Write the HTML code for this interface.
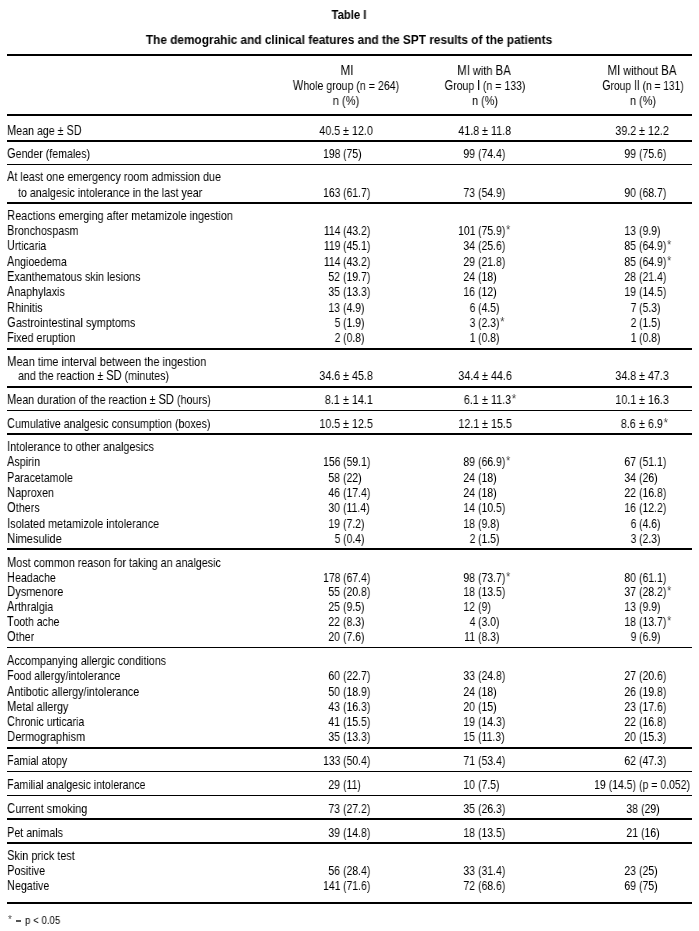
<!DOCTYPE html>
<html><head><meta charset="utf-8"><style>
html,body{margin:0;padding:0;background:#fff;}
body{width:699px;height:931px;position:relative;overflow:hidden;font-family:"Liberation Sans",sans-serif;color:#000;}
.t{position:absolute;white-space:pre;line-height:20px;will-change:transform;}
.t u{text-decoration:none;font-size:14px;line-height:0;}
.t i{font-style:normal;color:#444;margin-left:1px;position:relative;top:-0.8px;}
.r{position:absolute;left:7px;width:685px;background:#000;}
</style></head><body>
<div class="t" style="top:5.00px;font-size:12px;font-weight:bold;left:349.30px;transform:scaleX(0.94) translateX(-50%);transform-origin:0 0;">Table I</div>
<div class="t" style="top:30.00px;font-size:12px;font-weight:bold;left:349.35px;transform:scaleX(0.986) translateX(-50%);transform-origin:0 0;">The demograhic and clinical features and the SPT results of the patients</div>
<div class="r" style="top:54px;height:2px"></div>
<div class="r" style="top:114px;height:2px"></div>
<div class="r" style="top:140px;height:2px"></div>
<div class="r" style="top:164px;height:1px"></div>
<div class="r" style="top:202px;height:2px"></div>
<div class="r" style="top:348px;height:2px"></div>
<div class="r" style="top:386px;height:2px"></div>
<div class="r" style="top:410px;height:1px"></div>
<div class="r" style="top:433px;height:2px"></div>
<div class="r" style="top:548px;height:2px"></div>
<div class="r" style="top:647px;height:1px"></div>
<div class="r" style="top:747px;height:2px"></div>
<div class="r" style="top:771px;height:1px"></div>
<div class="r" style="top:795px;height:1px"></div>
<div class="r" style="top:818px;height:2px"></div>
<div class="r" style="top:842px;height:2px"></div>
<div class="r" style="top:902px;height:2px"></div>
<div class="t" style="top:61.00px;font-size:13.5px;left:347.30px;transform:scaleX(0.827037037037037) translateX(-50%);transform-origin:0 0;"><u>M</u><u>I</u></div>
<div class="t" style="top:76.00px;font-size:13.5px;left:346.30px;transform:scaleX(0.7859703703703703) translateX(-50%);transform-origin:0 0;"><u>W</u>hole group (n = 264)</div>
<div class="t" style="top:91.00px;font-size:13.5px;left:346.00px;transform:scaleX(0.8252740740740739) translateX(-50%);transform-origin:0 0;">n (%)</div>
<div class="t" style="top:61.00px;font-size:13.5px;left:484.20px;transform:scaleX(0.8157333333333332) translateX(-50%);transform-origin:0 0;"><u>M</u><u>I</u> with <u>B</u><u>A</u></div>
<div class="t" style="top:76.00px;font-size:13.5px;left:484.90px;transform:scaleX(0.7790222222222222) translateX(-50%);transform-origin:0 0;"><u>G</u>roup <u>I</u> (n = 133)</div>
<div class="t" style="top:91.00px;font-size:13.5px;left:484.70px;transform:scaleX(0.8062962962962962) translateX(-50%);transform-origin:0 0;">n (%)</div>
<div class="t" style="top:61.00px;font-size:13.5px;left:641.70px;transform:scaleX(0.8164592592592592) translateX(-50%);transform-origin:0 0;"><u>M</u><u>I</u> without <u>B</u><u>A</u></div>
<div class="t" style="top:76.00px;font-size:13.5px;left:642.60px;transform:scaleX(0.757037037037037) translateX(-50%);transform-origin:0 0;"><u>G</u>roup <u>I</u><u>I</u> (n = 131)</div>
<div class="t" style="top:91.00px;font-size:13.5px;left:642.70px;transform:scaleX(0.8125185185185184) translateX(-50%);transform-origin:0 0;">n (%)</div>
<div class="t" style="top:121.00px;font-size:13.5px;left:7.00px;transform:scaleX(0.7879015775691912);transform-origin:0 0;"><u>M</u>ean age ± <u>S</u><u>D</u></div>
<div class="t" style="top:121.00px;font-size:13.5px;left:342.70px;transform:scaleX(0.7964444444444444);transform-origin:0 0;">± 12.0</div>
<div class="t" style="top:121.00px;font-size:13.5px;right:359.10px;transform:scaleX(0.7964444444444444);transform-origin:100% 0;">40.5</div>
<div class="t" style="top:121.00px;font-size:13.5px;left:481.60px;transform:scaleX(0.7964444444444444);transform-origin:0 0;">± 11.8</div>
<div class="t" style="top:121.00px;font-size:13.5px;right:220.20px;transform:scaleX(0.7964444444444444);transform-origin:100% 0;">41.8</div>
<div class="t" style="top:121.00px;font-size:13.5px;left:638.90px;transform:scaleX(0.7964444444444444);transform-origin:0 0;">± 12.2</div>
<div class="t" style="top:121.00px;font-size:13.5px;right:62.90px;transform:scaleX(0.7964444444444444);transform-origin:100% 0;">39.2</div>
<div class="t" style="top:144.00px;font-size:13.5px;left:7.00px;transform:scaleX(0.7869093960571459);transform-origin:0 0;"><u>G</u>ender (females)</div>
<div class="t" style="top:144.00px;font-size:13.5px;left:342.90px;transform:scaleX(0.7757037037037037);transform-origin:0 0;">(75)</div>
<div class="t" style="top:144.00px;font-size:13.5px;right:358.90px;transform:scaleX(0.7757037037037037);transform-origin:100% 0;">198</div>
<div class="t" style="top:144.00px;font-size:13.5px;left:477.90px;transform:scaleX(0.7757037037037037);transform-origin:0 0;">(74.4)</div>
<div class="t" style="top:144.00px;font-size:13.5px;right:223.90px;transform:scaleX(0.7757037037037037);transform-origin:100% 0;">99</div>
<div class="t" style="top:144.00px;font-size:13.5px;left:639.10px;transform:scaleX(0.7757037037037037);transform-origin:0 0;">(75.6)</div>
<div class="t" style="top:144.00px;font-size:13.5px;right:62.70px;transform:scaleX(0.7757037037037037);transform-origin:100% 0;">99</div>
<div class="t" style="top:167.00px;font-size:13.5px;left:7.00px;transform:scaleX(0.799852436521638);transform-origin:0 0;"><u>A</u>t least one emergency room admission due</div>
<div class="t" style="top:182.50px;font-size:13.5px;left:17.50px;transform:scaleX(0.788880826695555);transform-origin:0 0;">to analgesic intolerance in the last year</div>
<div class="t" style="top:182.50px;font-size:13.5px;left:342.90px;transform:scaleX(0.7757037037037037);transform-origin:0 0;">(61.7)</div>
<div class="t" style="top:182.50px;font-size:13.5px;right:358.90px;transform:scaleX(0.7757037037037037);transform-origin:100% 0;">163</div>
<div class="t" style="top:182.50px;font-size:13.5px;left:477.90px;transform:scaleX(0.7757037037037037);transform-origin:0 0;">(54.9)</div>
<div class="t" style="top:182.50px;font-size:13.5px;right:223.90px;transform:scaleX(0.7757037037037037);transform-origin:100% 0;">73</div>
<div class="t" style="top:182.50px;font-size:13.5px;left:639.10px;transform:scaleX(0.7757037037037037);transform-origin:0 0;">(68.7)</div>
<div class="t" style="top:182.50px;font-size:13.5px;right:62.70px;transform:scaleX(0.7757037037037037);transform-origin:100% 0;">90</div>
<div class="t" style="top:206.00px;font-size:13.5px;left:7.00px;transform:scaleX(0.8016534879501813);transform-origin:0 0;"><u>R</u>eactions emerging after metamizole ingestion</div>
<div class="t" style="top:221.00px;font-size:13.5px;left:7.00px;transform:scaleX(0.7898478248480726);transform-origin:0 0;"><u>B</u>ronchospasm</div>
<div class="t" style="top:221.00px;font-size:13.5px;left:342.90px;transform:scaleX(0.7757037037037037);transform-origin:0 0;">(43.2)</div>
<div class="t" style="top:221.00px;font-size:13.5px;right:358.90px;transform:scaleX(0.7757037037037037);transform-origin:100% 0;">114</div>
<div class="t" style="top:221.00px;font-size:13.5px;left:477.90px;transform:scaleX(0.7757037037037037);transform-origin:0 0;">(75.9)<i>*</i></div>
<div class="t" style="top:221.00px;font-size:13.5px;right:223.90px;transform:scaleX(0.7757037037037037);transform-origin:100% 0;">101</div>
<div class="t" style="top:221.00px;font-size:13.5px;left:639.10px;transform:scaleX(0.7757037037037037);transform-origin:0 0;">(9.9)</div>
<div class="t" style="top:221.00px;font-size:13.5px;right:62.70px;transform:scaleX(0.7757037037037037);transform-origin:100% 0;">13</div>
<div class="t" style="top:236.00px;font-size:13.5px;left:7.00px;transform:scaleX(0.776022792022792);transform-origin:0 0;"><u>U</u>rticaria</div>
<div class="t" style="top:236.00px;font-size:13.5px;left:342.90px;transform:scaleX(0.7757037037037037);transform-origin:0 0;">(45.1)</div>
<div class="t" style="top:236.00px;font-size:13.5px;right:358.90px;transform:scaleX(0.7757037037037037);transform-origin:100% 0;">119</div>
<div class="t" style="top:236.00px;font-size:13.5px;left:477.90px;transform:scaleX(0.7757037037037037);transform-origin:0 0;">(25.6)</div>
<div class="t" style="top:236.00px;font-size:13.5px;right:223.90px;transform:scaleX(0.7757037037037037);transform-origin:100% 0;">34</div>
<div class="t" style="top:236.00px;font-size:13.5px;left:639.10px;transform:scaleX(0.7757037037037037);transform-origin:0 0;">(64.9)<i>*</i></div>
<div class="t" style="top:236.00px;font-size:13.5px;right:62.70px;transform:scaleX(0.7757037037037037);transform-origin:100% 0;">85</div>
<div class="t" style="top:252.00px;font-size:13.5px;left:7.00px;transform:scaleX(0.7833879781420764);transform-origin:0 0;"><u>A</u>ngioedema</div>
<div class="t" style="top:252.00px;font-size:13.5px;left:342.90px;transform:scaleX(0.7757037037037037);transform-origin:0 0;">(43.2)</div>
<div class="t" style="top:252.00px;font-size:13.5px;right:358.90px;transform:scaleX(0.7757037037037037);transform-origin:100% 0;">114</div>
<div class="t" style="top:252.00px;font-size:13.5px;left:477.90px;transform:scaleX(0.7757037037037037);transform-origin:0 0;">(21.8)</div>
<div class="t" style="top:252.00px;font-size:13.5px;right:223.90px;transform:scaleX(0.7757037037037037);transform-origin:100% 0;">29</div>
<div class="t" style="top:252.00px;font-size:13.5px;left:639.10px;transform:scaleX(0.7757037037037037);transform-origin:0 0;">(64.9)<i>*</i></div>
<div class="t" style="top:252.00px;font-size:13.5px;right:62.70px;transform:scaleX(0.7757037037037037);transform-origin:100% 0;">85</div>
<div class="t" style="top:267.00px;font-size:13.5px;left:7.00px;transform:scaleX(0.7952588207370934);transform-origin:0 0;"><u>E</u>xanthematous skin lesions</div>
<div class="t" style="top:267.00px;font-size:13.5px;left:342.90px;transform:scaleX(0.7757037037037037);transform-origin:0 0;">(19.7)</div>
<div class="t" style="top:267.00px;font-size:13.5px;right:358.90px;transform:scaleX(0.7757037037037037);transform-origin:100% 0;">52</div>
<div class="t" style="top:267.00px;font-size:13.5px;left:477.90px;transform:scaleX(0.7757037037037037);transform-origin:0 0;">(18)</div>
<div class="t" style="top:267.00px;font-size:13.5px;right:223.90px;transform:scaleX(0.7757037037037037);transform-origin:100% 0;">24</div>
<div class="t" style="top:267.00px;font-size:13.5px;left:639.10px;transform:scaleX(0.7757037037037037);transform-origin:0 0;">(21.4)</div>
<div class="t" style="top:267.00px;font-size:13.5px;right:62.70px;transform:scaleX(0.7757037037037037);transform-origin:100% 0;">28</div>
<div class="t" style="top:282.00px;font-size:13.5px;left:7.00px;transform:scaleX(0.7884064180111445);transform-origin:0 0;"><u>A</u>naphylaxis</div>
<div class="t" style="top:282.00px;font-size:13.5px;left:342.90px;transform:scaleX(0.7757037037037037);transform-origin:0 0;">(13.3)</div>
<div class="t" style="top:282.00px;font-size:13.5px;right:358.90px;transform:scaleX(0.7757037037037037);transform-origin:100% 0;">35</div>
<div class="t" style="top:282.00px;font-size:13.5px;left:477.90px;transform:scaleX(0.7757037037037037);transform-origin:0 0;">(12)</div>
<div class="t" style="top:282.00px;font-size:13.5px;right:223.90px;transform:scaleX(0.7757037037037037);transform-origin:100% 0;">16</div>
<div class="t" style="top:282.00px;font-size:13.5px;left:639.10px;transform:scaleX(0.7757037037037037);transform-origin:0 0;">(14.5)</div>
<div class="t" style="top:282.00px;font-size:13.5px;right:62.70px;transform:scaleX(0.7757037037037037);transform-origin:100% 0;">19</div>
<div class="t" style="top:298.00px;font-size:13.5px;left:7.00px;transform:scaleX(0.7964444444444444);transform-origin:0 0;"><u>R</u>hinitis</div>
<div class="t" style="top:298.00px;font-size:13.5px;left:342.90px;transform:scaleX(0.7757037037037037);transform-origin:0 0;">(4.9)</div>
<div class="t" style="top:298.00px;font-size:13.5px;right:358.90px;transform:scaleX(0.7757037037037037);transform-origin:100% 0;">13</div>
<div class="t" style="top:298.00px;font-size:13.5px;left:477.90px;transform:scaleX(0.7757037037037037);transform-origin:0 0;">(4.5)</div>
<div class="t" style="top:298.00px;font-size:13.5px;right:223.90px;transform:scaleX(0.7757037037037037);transform-origin:100% 0;">6</div>
<div class="t" style="top:298.00px;font-size:13.5px;left:639.10px;transform:scaleX(0.7757037037037037);transform-origin:0 0;">(5.3)</div>
<div class="t" style="top:298.00px;font-size:13.5px;right:62.70px;transform:scaleX(0.7757037037037037);transform-origin:100% 0;">7</div>
<div class="t" style="top:313.00px;font-size:13.5px;left:7.00px;transform:scaleX(0.8050421199355624);transform-origin:0 0;"><u>G</u>astrointestinal symptoms</div>
<div class="t" style="top:313.00px;font-size:13.5px;left:342.90px;transform:scaleX(0.7757037037037037);transform-origin:0 0;">(1.9)</div>
<div class="t" style="top:313.00px;font-size:13.5px;right:358.90px;transform:scaleX(0.7757037037037037);transform-origin:100% 0;">5</div>
<div class="t" style="top:313.00px;font-size:13.5px;left:477.90px;transform:scaleX(0.7757037037037037);transform-origin:0 0;">(2.3)<i>*</i></div>
<div class="t" style="top:313.00px;font-size:13.5px;right:223.90px;transform:scaleX(0.7757037037037037);transform-origin:100% 0;">3</div>
<div class="t" style="top:313.00px;font-size:13.5px;left:639.10px;transform:scaleX(0.7757037037037037);transform-origin:0 0;">(1.5)</div>
<div class="t" style="top:313.00px;font-size:13.5px;right:62.70px;transform:scaleX(0.7757037037037037);transform-origin:100% 0;">2</div>
<div class="t" style="top:328.00px;font-size:13.5px;left:7.00px;transform:scaleX(0.7964444444444444);transform-origin:0 0;"><u>F</u>ixed eruption</div>
<div class="t" style="top:328.00px;font-size:13.5px;left:342.90px;transform:scaleX(0.7757037037037037);transform-origin:0 0;">(0.8)</div>
<div class="t" style="top:328.00px;font-size:13.5px;right:358.90px;transform:scaleX(0.7757037037037037);transform-origin:100% 0;">2</div>
<div class="t" style="top:328.00px;font-size:13.5px;left:477.90px;transform:scaleX(0.7757037037037037);transform-origin:0 0;">(0.8)</div>
<div class="t" style="top:328.00px;font-size:13.5px;right:223.90px;transform:scaleX(0.7757037037037037);transform-origin:100% 0;">1</div>
<div class="t" style="top:328.00px;font-size:13.5px;left:639.10px;transform:scaleX(0.7757037037037037);transform-origin:0 0;">(0.8)</div>
<div class="t" style="top:328.00px;font-size:13.5px;right:62.70px;transform:scaleX(0.7757037037037037);transform-origin:100% 0;">1</div>
<div class="t" style="top:352.00px;font-size:13.5px;left:7.00px;transform:scaleX(0.8108108935240101);transform-origin:0 0;"><u>M</u>ean time interval between the ingestion</div>
<div class="t" style="top:366.00px;font-size:13.5px;left:17.50px;transform:scaleX(0.7896274329876648);transform-origin:0 0;">and the reaction ± <u>S</u><u>D</u> (minutes)</div>
<div class="t" style="top:366.00px;font-size:13.5px;left:342.70px;transform:scaleX(0.7964444444444444);transform-origin:0 0;">± 45.8</div>
<div class="t" style="top:366.00px;font-size:13.5px;right:359.10px;transform:scaleX(0.7964444444444444);transform-origin:100% 0;">34.6</div>
<div class="t" style="top:366.00px;font-size:13.5px;left:481.60px;transform:scaleX(0.7964444444444444);transform-origin:0 0;">± 44.6</div>
<div class="t" style="top:366.00px;font-size:13.5px;right:220.20px;transform:scaleX(0.7964444444444444);transform-origin:100% 0;">34.4</div>
<div class="t" style="top:366.00px;font-size:13.5px;left:638.90px;transform:scaleX(0.7964444444444444);transform-origin:0 0;">± 47.3</div>
<div class="t" style="top:366.00px;font-size:13.5px;right:62.90px;transform:scaleX(0.7964444444444444);transform-origin:100% 0;">34.8</div>
<div class="t" style="top:390.00px;font-size:13.5px;left:7.00px;transform:scaleX(0.7933146585978659);transform-origin:0 0;"><u>M</u>ean duration of the reaction ± <u>S</u><u>D</u> (hours)</div>
<div class="t" style="top:390.00px;font-size:13.5px;left:342.70px;transform:scaleX(0.7964444444444444);transform-origin:0 0;">± 14.1</div>
<div class="t" style="top:390.00px;font-size:13.5px;right:359.10px;transform:scaleX(0.7964444444444444);transform-origin:100% 0;">8.1</div>
<div class="t" style="top:390.00px;font-size:13.5px;left:481.60px;transform:scaleX(0.7964444444444444);transform-origin:0 0;">± 11.3<i>*</i></div>
<div class="t" style="top:390.00px;font-size:13.5px;right:220.20px;transform:scaleX(0.7964444444444444);transform-origin:100% 0;">6.1</div>
<div class="t" style="top:390.00px;font-size:13.5px;left:638.90px;transform:scaleX(0.7964444444444444);transform-origin:0 0;">± 16.3</div>
<div class="t" style="top:390.00px;font-size:13.5px;right:62.90px;transform:scaleX(0.7964444444444444);transform-origin:100% 0;">10.1</div>
<div class="t" style="top:414.00px;font-size:13.5px;left:7.00px;transform:scaleX(0.7894258612517977);transform-origin:0 0;"><u>C</u>umulative analgesic consumption (boxes)</div>
<div class="t" style="top:414.00px;font-size:13.5px;left:342.70px;transform:scaleX(0.7964444444444444);transform-origin:0 0;">± 12.5</div>
<div class="t" style="top:414.00px;font-size:13.5px;right:359.10px;transform:scaleX(0.7964444444444444);transform-origin:100% 0;">10.5</div>
<div class="t" style="top:414.00px;font-size:13.5px;left:481.60px;transform:scaleX(0.7964444444444444);transform-origin:0 0;">± 15.5</div>
<div class="t" style="top:414.00px;font-size:13.5px;right:220.20px;transform:scaleX(0.7964444444444444);transform-origin:100% 0;">12.1</div>
<div class="t" style="top:414.00px;font-size:13.5px;left:638.90px;transform:scaleX(0.7964444444444444);transform-origin:0 0;">± 6.9<i>*</i></div>
<div class="t" style="top:414.00px;font-size:13.5px;right:62.90px;transform:scaleX(0.7964444444444444);transform-origin:100% 0;">8.6</div>
<div class="t" style="top:437.00px;font-size:13.5px;left:7.00px;transform:scaleX(0.7986732699240056);transform-origin:0 0;"><u>I</u>ntolerance to other analgesics</div>
<div class="t" style="top:452.00px;font-size:13.5px;left:7.00px;transform:scaleX(0.7964444444444444);transform-origin:0 0;"><u>A</u>spirin</div>
<div class="t" style="top:452.00px;font-size:13.5px;left:342.90px;transform:scaleX(0.7757037037037037);transform-origin:0 0;">(59.1)</div>
<div class="t" style="top:452.00px;font-size:13.5px;right:358.90px;transform:scaleX(0.7757037037037037);transform-origin:100% 0;">156</div>
<div class="t" style="top:452.00px;font-size:13.5px;left:477.90px;transform:scaleX(0.7757037037037037);transform-origin:0 0;">(66.9)<i>*</i></div>
<div class="t" style="top:452.00px;font-size:13.5px;right:223.90px;transform:scaleX(0.7757037037037037);transform-origin:100% 0;">89</div>
<div class="t" style="top:452.00px;font-size:13.5px;left:639.10px;transform:scaleX(0.7757037037037037);transform-origin:0 0;">(51.1)</div>
<div class="t" style="top:452.00px;font-size:13.5px;right:62.70px;transform:scaleX(0.7757037037037037);transform-origin:100% 0;">67</div>
<div class="t" style="top:468.00px;font-size:13.5px;left:7.00px;transform:scaleX(0.7867294150385777);transform-origin:0 0;"><u>P</u>aracetamole</div>
<div class="t" style="top:468.00px;font-size:13.5px;left:342.90px;transform:scaleX(0.7757037037037037);transform-origin:0 0;">(22)</div>
<div class="t" style="top:468.00px;font-size:13.5px;right:358.90px;transform:scaleX(0.7757037037037037);transform-origin:100% 0;">58</div>
<div class="t" style="top:468.00px;font-size:13.5px;left:477.90px;transform:scaleX(0.7757037037037037);transform-origin:0 0;">(18)</div>
<div class="t" style="top:468.00px;font-size:13.5px;right:223.90px;transform:scaleX(0.7757037037037037);transform-origin:100% 0;">24</div>
<div class="t" style="top:468.00px;font-size:13.5px;left:639.10px;transform:scaleX(0.7757037037037037);transform-origin:0 0;">(26)</div>
<div class="t" style="top:468.00px;font-size:13.5px;right:62.70px;transform:scaleX(0.7757037037037037);transform-origin:100% 0;">34</div>
<div class="t" style="top:483.00px;font-size:13.5px;left:7.00px;transform:scaleX(0.7964444444444444);transform-origin:0 0;"><u>N</u>aproxen</div>
<div class="t" style="top:483.00px;font-size:13.5px;left:342.90px;transform:scaleX(0.7757037037037037);transform-origin:0 0;">(17.4)</div>
<div class="t" style="top:483.00px;font-size:13.5px;right:358.90px;transform:scaleX(0.7757037037037037);transform-origin:100% 0;">46</div>
<div class="t" style="top:483.00px;font-size:13.5px;left:477.90px;transform:scaleX(0.7757037037037037);transform-origin:0 0;">(18)</div>
<div class="t" style="top:483.00px;font-size:13.5px;right:223.90px;transform:scaleX(0.7757037037037037);transform-origin:100% 0;">24</div>
<div class="t" style="top:483.00px;font-size:13.5px;left:639.10px;transform:scaleX(0.7757037037037037);transform-origin:0 0;">(16.8)</div>
<div class="t" style="top:483.00px;font-size:13.5px;right:62.70px;transform:scaleX(0.7757037037037037);transform-origin:100% 0;">22</div>
<div class="t" style="top:498.00px;font-size:13.5px;left:7.00px;transform:scaleX(0.7964444444444444);transform-origin:0 0;"><u>O</u>thers</div>
<div class="t" style="top:498.00px;font-size:13.5px;left:342.90px;transform:scaleX(0.7757037037037037);transform-origin:0 0;">(11.4)</div>
<div class="t" style="top:498.00px;font-size:13.5px;right:358.90px;transform:scaleX(0.7757037037037037);transform-origin:100% 0;">30</div>
<div class="t" style="top:498.00px;font-size:13.5px;left:477.90px;transform:scaleX(0.7757037037037037);transform-origin:0 0;">(10.5)</div>
<div class="t" style="top:498.00px;font-size:13.5px;right:223.90px;transform:scaleX(0.7757037037037037);transform-origin:100% 0;">14</div>
<div class="t" style="top:498.00px;font-size:13.5px;left:639.10px;transform:scaleX(0.7757037037037037);transform-origin:0 0;">(12.2)</div>
<div class="t" style="top:498.00px;font-size:13.5px;right:62.70px;transform:scaleX(0.7757037037037037);transform-origin:100% 0;">16</div>
<div class="t" style="top:514.00px;font-size:13.5px;left:7.00px;transform:scaleX(0.8007402525202977);transform-origin:0 0;"><u>I</u>solated metamizole intolerance</div>
<div class="t" style="top:514.00px;font-size:13.5px;left:342.90px;transform:scaleX(0.7757037037037037);transform-origin:0 0;">(7.2)</div>
<div class="t" style="top:514.00px;font-size:13.5px;right:358.90px;transform:scaleX(0.7757037037037037);transform-origin:100% 0;">19</div>
<div class="t" style="top:514.00px;font-size:13.5px;left:477.90px;transform:scaleX(0.7757037037037037);transform-origin:0 0;">(9.8)</div>
<div class="t" style="top:514.00px;font-size:13.5px;right:223.90px;transform:scaleX(0.7757037037037037);transform-origin:100% 0;">18</div>
<div class="t" style="top:514.00px;font-size:13.5px;left:639.10px;transform:scaleX(0.7757037037037037);transform-origin:0 0;">(4.6)</div>
<div class="t" style="top:514.00px;font-size:13.5px;right:62.70px;transform:scaleX(0.7757037037037037);transform-origin:100% 0;">6</div>
<div class="t" style="top:529.00px;font-size:13.5px;left:7.00px;transform:scaleX(0.8135155724592016);transform-origin:0 0;"><u>N</u>imesulide</div>
<div class="t" style="top:529.00px;font-size:13.5px;left:342.90px;transform:scaleX(0.7757037037037037);transform-origin:0 0;">(0.4)</div>
<div class="t" style="top:529.00px;font-size:13.5px;right:358.90px;transform:scaleX(0.7757037037037037);transform-origin:100% 0;">5</div>
<div class="t" style="top:529.00px;font-size:13.5px;left:477.90px;transform:scaleX(0.7757037037037037);transform-origin:0 0;">(1.5)</div>
<div class="t" style="top:529.00px;font-size:13.5px;right:223.90px;transform:scaleX(0.7757037037037037);transform-origin:100% 0;">2</div>
<div class="t" style="top:529.00px;font-size:13.5px;left:639.10px;transform:scaleX(0.7757037037037037);transform-origin:0 0;">(2.3)</div>
<div class="t" style="top:529.00px;font-size:13.5px;right:62.70px;transform:scaleX(0.7757037037037037);transform-origin:100% 0;">3</div>
<div class="t" style="top:553.00px;font-size:13.5px;left:7.00px;transform:scaleX(0.7949635467752424);transform-origin:0 0;"><u>M</u>ost common reason for taking an analgesic</div>
<div class="t" style="top:568.00px;font-size:13.5px;left:7.00px;transform:scaleX(0.7867831263009912);transform-origin:0 0;"><u>H</u>eadache</div>
<div class="t" style="top:568.00px;font-size:13.5px;left:342.90px;transform:scaleX(0.7757037037037037);transform-origin:0 0;">(67.4)</div>
<div class="t" style="top:568.00px;font-size:13.5px;right:358.90px;transform:scaleX(0.7757037037037037);transform-origin:100% 0;">178</div>
<div class="t" style="top:568.00px;font-size:13.5px;left:477.90px;transform:scaleX(0.7757037037037037);transform-origin:0 0;">(73.7)<i>*</i></div>
<div class="t" style="top:568.00px;font-size:13.5px;right:223.90px;transform:scaleX(0.7757037037037037);transform-origin:100% 0;">98</div>
<div class="t" style="top:568.00px;font-size:13.5px;left:639.10px;transform:scaleX(0.7757037037037037);transform-origin:0 0;">(61.1)</div>
<div class="t" style="top:568.00px;font-size:13.5px;right:62.70px;transform:scaleX(0.7757037037037037);transform-origin:100% 0;">80</div>
<div class="t" style="top:582.00px;font-size:13.5px;left:7.00px;transform:scaleX(0.8112387983368077);transform-origin:0 0;"><u>D</u>ysmenore</div>
<div class="t" style="top:582.00px;font-size:13.5px;left:342.90px;transform:scaleX(0.7757037037037037);transform-origin:0 0;">(20.8)</div>
<div class="t" style="top:582.00px;font-size:13.5px;right:358.90px;transform:scaleX(0.7757037037037037);transform-origin:100% 0;">55</div>
<div class="t" style="top:582.00px;font-size:13.5px;left:477.90px;transform:scaleX(0.7757037037037037);transform-origin:0 0;">(13.5)</div>
<div class="t" style="top:582.00px;font-size:13.5px;right:223.90px;transform:scaleX(0.7757037037037037);transform-origin:100% 0;">18</div>
<div class="t" style="top:582.00px;font-size:13.5px;left:639.10px;transform:scaleX(0.7757037037037037);transform-origin:0 0;">(28.2)<i>*</i></div>
<div class="t" style="top:582.00px;font-size:13.5px;right:62.70px;transform:scaleX(0.7757037037037037);transform-origin:100% 0;">37</div>
<div class="t" style="top:597.00px;font-size:13.5px;left:7.00px;transform:scaleX(0.7964444444444444);transform-origin:0 0;"><u>A</u>rthralgia</div>
<div class="t" style="top:597.00px;font-size:13.5px;left:342.90px;transform:scaleX(0.7757037037037037);transform-origin:0 0;">(9.5)</div>
<div class="t" style="top:597.00px;font-size:13.5px;right:358.90px;transform:scaleX(0.7757037037037037);transform-origin:100% 0;">25</div>
<div class="t" style="top:597.00px;font-size:13.5px;left:477.90px;transform:scaleX(0.7757037037037037);transform-origin:0 0;">(9)</div>
<div class="t" style="top:597.00px;font-size:13.5px;right:223.90px;transform:scaleX(0.7757037037037037);transform-origin:100% 0;">12</div>
<div class="t" style="top:597.00px;font-size:13.5px;left:639.10px;transform:scaleX(0.7757037037037037);transform-origin:0 0;">(9.9)</div>
<div class="t" style="top:597.00px;font-size:13.5px;right:62.70px;transform:scaleX(0.7757037037037037);transform-origin:100% 0;">13</div>
<div class="t" style="top:612.00px;font-size:13.5px;left:7.00px;transform:scaleX(0.7728074422725171);transform-origin:0 0;"><u>T</u>ooth ache</div>
<div class="t" style="top:612.00px;font-size:13.5px;left:342.90px;transform:scaleX(0.7757037037037037);transform-origin:0 0;">(8.3)</div>
<div class="t" style="top:612.00px;font-size:13.5px;right:358.90px;transform:scaleX(0.7757037037037037);transform-origin:100% 0;">22</div>
<div class="t" style="top:612.00px;font-size:13.5px;left:477.90px;transform:scaleX(0.7757037037037037);transform-origin:0 0;">(3.0)</div>
<div class="t" style="top:612.00px;font-size:13.5px;right:223.90px;transform:scaleX(0.7757037037037037);transform-origin:100% 0;">4</div>
<div class="t" style="top:612.00px;font-size:13.5px;left:639.10px;transform:scaleX(0.7757037037037037);transform-origin:0 0;">(13.7)<i>*</i></div>
<div class="t" style="top:612.00px;font-size:13.5px;right:62.70px;transform:scaleX(0.7757037037037037);transform-origin:100% 0;">18</div>
<div class="t" style="top:627.00px;font-size:13.5px;left:7.00px;transform:scaleX(0.7964444444444444);transform-origin:0 0;"><u>O</u>ther</div>
<div class="t" style="top:627.00px;font-size:13.5px;left:342.90px;transform:scaleX(0.7757037037037037);transform-origin:0 0;">(7.6)</div>
<div class="t" style="top:627.00px;font-size:13.5px;right:358.90px;transform:scaleX(0.7757037037037037);transform-origin:100% 0;">20</div>
<div class="t" style="top:627.00px;font-size:13.5px;left:477.90px;transform:scaleX(0.7757037037037037);transform-origin:0 0;">(8.3)</div>
<div class="t" style="top:627.00px;font-size:13.5px;right:223.90px;transform:scaleX(0.7757037037037037);transform-origin:100% 0;">11</div>
<div class="t" style="top:627.00px;font-size:13.5px;left:639.10px;transform:scaleX(0.7757037037037037);transform-origin:0 0;">(6.9)</div>
<div class="t" style="top:627.00px;font-size:13.5px;right:62.70px;transform:scaleX(0.7757037037037037);transform-origin:100% 0;">9</div>
<div class="t" style="top:651.00px;font-size:13.5px;left:7.00px;transform:scaleX(0.7954571671400607);transform-origin:0 0;"><u>A</u>ccompanying allergic conditions</div>
<div class="t" style="top:666.00px;font-size:13.5px;left:7.00px;transform:scaleX(0.7846563179758687);transform-origin:0 0;"><u>F</u>ood allergy/intolerance</div>
<div class="t" style="top:666.00px;font-size:13.5px;left:342.90px;transform:scaleX(0.7757037037037037);transform-origin:0 0;">(22.7)</div>
<div class="t" style="top:666.00px;font-size:13.5px;right:358.90px;transform:scaleX(0.7757037037037037);transform-origin:100% 0;">60</div>
<div class="t" style="top:666.00px;font-size:13.5px;left:477.90px;transform:scaleX(0.7757037037037037);transform-origin:0 0;">(24.8)</div>
<div class="t" style="top:666.00px;font-size:13.5px;right:223.90px;transform:scaleX(0.7757037037037037);transform-origin:100% 0;">33</div>
<div class="t" style="top:666.00px;font-size:13.5px;left:639.10px;transform:scaleX(0.7757037037037037);transform-origin:0 0;">(20.6)</div>
<div class="t" style="top:666.00px;font-size:13.5px;right:62.70px;transform:scaleX(0.7757037037037037);transform-origin:100% 0;">27</div>
<div class="t" style="top:682.00px;font-size:13.5px;left:7.00px;transform:scaleX(0.7989289425348347);transform-origin:0 0;"><u>A</u>ntibotic allergy/intolerance</div>
<div class="t" style="top:682.00px;font-size:13.5px;left:342.90px;transform:scaleX(0.7757037037037037);transform-origin:0 0;">(18.9)</div>
<div class="t" style="top:682.00px;font-size:13.5px;right:358.90px;transform:scaleX(0.7757037037037037);transform-origin:100% 0;">50</div>
<div class="t" style="top:682.00px;font-size:13.5px;left:477.90px;transform:scaleX(0.7757037037037037);transform-origin:0 0;">(18)</div>
<div class="t" style="top:682.00px;font-size:13.5px;right:223.90px;transform:scaleX(0.7757037037037037);transform-origin:100% 0;">24</div>
<div class="t" style="top:682.00px;font-size:13.5px;left:639.10px;transform:scaleX(0.7757037037037037);transform-origin:0 0;">(19.8)</div>
<div class="t" style="top:682.00px;font-size:13.5px;right:62.70px;transform:scaleX(0.7757037037037037);transform-origin:100% 0;">26</div>
<div class="t" style="top:697.00px;font-size:13.5px;left:7.00px;transform:scaleX(0.7964444444444444);transform-origin:0 0;"><u>M</u>etal allergy</div>
<div class="t" style="top:697.00px;font-size:13.5px;left:342.90px;transform:scaleX(0.7757037037037037);transform-origin:0 0;">(16.3)</div>
<div class="t" style="top:697.00px;font-size:13.5px;right:358.90px;transform:scaleX(0.7757037037037037);transform-origin:100% 0;">43</div>
<div class="t" style="top:697.00px;font-size:13.5px;left:477.90px;transform:scaleX(0.7757037037037037);transform-origin:0 0;">(15)</div>
<div class="t" style="top:697.00px;font-size:13.5px;right:223.90px;transform:scaleX(0.7757037037037037);transform-origin:100% 0;">20</div>
<div class="t" style="top:697.00px;font-size:13.5px;left:639.10px;transform:scaleX(0.7757037037037037);transform-origin:0 0;">(17.6)</div>
<div class="t" style="top:697.00px;font-size:13.5px;right:62.70px;transform:scaleX(0.7757037037037037);transform-origin:100% 0;">23</div>
<div class="t" style="top:712.00px;font-size:13.5px;left:7.00px;transform:scaleX(0.7821700291805359);transform-origin:0 0;"><u>C</u>hronic urticaria</div>
<div class="t" style="top:712.00px;font-size:13.5px;left:342.90px;transform:scaleX(0.7757037037037037);transform-origin:0 0;">(15.5)</div>
<div class="t" style="top:712.00px;font-size:13.5px;right:358.90px;transform:scaleX(0.7757037037037037);transform-origin:100% 0;">41</div>
<div class="t" style="top:712.00px;font-size:13.5px;left:477.90px;transform:scaleX(0.7757037037037037);transform-origin:0 0;">(14.3)</div>
<div class="t" style="top:712.00px;font-size:13.5px;right:223.90px;transform:scaleX(0.7757037037037037);transform-origin:100% 0;">19</div>
<div class="t" style="top:712.00px;font-size:13.5px;left:639.10px;transform:scaleX(0.7757037037037037);transform-origin:0 0;">(16.8)</div>
<div class="t" style="top:712.00px;font-size:13.5px;right:62.70px;transform:scaleX(0.7757037037037037);transform-origin:100% 0;">22</div>
<div class="t" style="top:727.00px;font-size:13.5px;left:7.00px;transform:scaleX(0.8100032109001079);transform-origin:0 0;"><u>D</u>ermographism</div>
<div class="t" style="top:727.00px;font-size:13.5px;left:342.90px;transform:scaleX(0.7757037037037037);transform-origin:0 0;">(13.3)</div>
<div class="t" style="top:727.00px;font-size:13.5px;right:358.90px;transform:scaleX(0.7757037037037037);transform-origin:100% 0;">35</div>
<div class="t" style="top:727.00px;font-size:13.5px;left:477.90px;transform:scaleX(0.7757037037037037);transform-origin:0 0;">(11.3)</div>
<div class="t" style="top:727.00px;font-size:13.5px;right:223.90px;transform:scaleX(0.7757037037037037);transform-origin:100% 0;">15</div>
<div class="t" style="top:727.00px;font-size:13.5px;left:639.10px;transform:scaleX(0.7757037037037037);transform-origin:0 0;">(15.3)</div>
<div class="t" style="top:727.00px;font-size:13.5px;right:62.70px;transform:scaleX(0.7757037037037037);transform-origin:100% 0;">20</div>
<div class="t" style="top:751.00px;font-size:13.5px;left:7.00px;transform:scaleX(0.7755233407665383);transform-origin:0 0;"><u>F</u>amial atopy</div>
<div class="t" style="top:751.00px;font-size:13.5px;left:342.90px;transform:scaleX(0.7757037037037037);transform-origin:0 0;">(50.4)</div>
<div class="t" style="top:751.00px;font-size:13.5px;right:358.90px;transform:scaleX(0.7757037037037037);transform-origin:100% 0;">133</div>
<div class="t" style="top:751.00px;font-size:13.5px;left:477.90px;transform:scaleX(0.7757037037037037);transform-origin:0 0;">(53.4)</div>
<div class="t" style="top:751.00px;font-size:13.5px;right:223.90px;transform:scaleX(0.7757037037037037);transform-origin:100% 0;">71</div>
<div class="t" style="top:751.00px;font-size:13.5px;left:639.10px;transform:scaleX(0.7757037037037037);transform-origin:0 0;">(47.3)</div>
<div class="t" style="top:751.00px;font-size:13.5px;right:62.70px;transform:scaleX(0.7757037037037037);transform-origin:100% 0;">62</div>
<div class="t" style="top:775.00px;font-size:13.5px;left:7.00px;transform:scaleX(0.7802160934160606);transform-origin:0 0;"><u>F</u>amilial analgesic intolerance</div>
<div class="t" style="top:775.00px;font-size:13.5px;left:342.90px;transform:scaleX(0.7757037037037037);transform-origin:0 0;">(11)</div>
<div class="t" style="top:775.00px;font-size:13.5px;right:358.90px;transform:scaleX(0.7757037037037037);transform-origin:100% 0;">29</div>
<div class="t" style="top:775.00px;font-size:13.5px;left:477.90px;transform:scaleX(0.7757037037037037);transform-origin:0 0;">(7.5)</div>
<div class="t" style="top:775.00px;font-size:13.5px;right:223.90px;transform:scaleX(0.7757037037037037);transform-origin:100% 0;">10</div>
<div class="t" style="top:775.00px;font-size:13.5px;left:639.10px;transform:scaleX(0.7757037037037037);transform-origin:0 0;">(p = 0.052)</div>
<div class="t" style="top:775.00px;font-size:13.5px;right:62.70px;transform:scaleX(0.7757037037037037);transform-origin:100% 0;">19 (14.5)</div>
<div class="t" style="top:799.00px;font-size:13.5px;left:7.00px;transform:scaleX(0.8070193478137472);transform-origin:0 0;"><u>C</u>urrent smoking</div>
<div class="t" style="top:799.00px;font-size:13.5px;left:342.90px;transform:scaleX(0.7757037037037037);transform-origin:0 0;">(27.2)</div>
<div class="t" style="top:799.00px;font-size:13.5px;right:358.90px;transform:scaleX(0.7757037037037037);transform-origin:100% 0;">73</div>
<div class="t" style="top:799.00px;font-size:13.5px;left:477.90px;transform:scaleX(0.7757037037037037);transform-origin:0 0;">(26.3)</div>
<div class="t" style="top:799.00px;font-size:13.5px;right:223.90px;transform:scaleX(0.7757037037037037);transform-origin:100% 0;">35</div>
<div class="t" style="top:799.00px;font-size:13.5px;left:641.20px;transform:scaleX(0.7757037037037037);transform-origin:0 0;">(29)</div>
<div class="t" style="top:799.00px;font-size:13.5px;right:60.60px;transform:scaleX(0.7757037037037037);transform-origin:100% 0;">38</div>
<div class="t" style="top:823.00px;font-size:13.5px;left:7.00px;transform:scaleX(0.7909565115294456);transform-origin:0 0;"><u>P</u>et animals</div>
<div class="t" style="top:823.00px;font-size:13.5px;left:342.90px;transform:scaleX(0.7757037037037037);transform-origin:0 0;">(14.8)</div>
<div class="t" style="top:823.00px;font-size:13.5px;right:358.90px;transform:scaleX(0.7757037037037037);transform-origin:100% 0;">39</div>
<div class="t" style="top:823.00px;font-size:13.5px;left:477.90px;transform:scaleX(0.7757037037037037);transform-origin:0 0;">(13.5)</div>
<div class="t" style="top:823.00px;font-size:13.5px;right:223.90px;transform:scaleX(0.7757037037037037);transform-origin:100% 0;">18</div>
<div class="t" style="top:823.00px;font-size:13.5px;left:641.20px;transform:scaleX(0.7757037037037037);transform-origin:0 0;">(16)</div>
<div class="t" style="top:823.00px;font-size:13.5px;right:60.60px;transform:scaleX(0.7757037037037037);transform-origin:100% 0;">21</div>
<div class="t" style="top:846.00px;font-size:13.5px;left:7.00px;transform:scaleX(0.8038925429582661);transform-origin:0 0;"><u>S</u>kin prick test</div>
<div class="t" style="top:861.00px;font-size:13.5px;left:7.00px;transform:scaleX(0.8015990466109688);transform-origin:0 0;"><u>P</u>ositive</div>
<div class="t" style="top:861.00px;font-size:13.5px;left:342.90px;transform:scaleX(0.7757037037037037);transform-origin:0 0;">(28.4)</div>
<div class="t" style="top:861.00px;font-size:13.5px;right:358.90px;transform:scaleX(0.7757037037037037);transform-origin:100% 0;">56</div>
<div class="t" style="top:861.00px;font-size:13.5px;left:477.90px;transform:scaleX(0.7757037037037037);transform-origin:0 0;">(31.4)</div>
<div class="t" style="top:861.00px;font-size:13.5px;right:223.90px;transform:scaleX(0.7757037037037037);transform-origin:100% 0;">33</div>
<div class="t" style="top:861.00px;font-size:13.5px;left:639.10px;transform:scaleX(0.7757037037037037);transform-origin:0 0;">(25)</div>
<div class="t" style="top:861.00px;font-size:13.5px;right:62.70px;transform:scaleX(0.7757037037037037);transform-origin:100% 0;">23</div>
<div class="t" style="top:876.00px;font-size:13.5px;left:7.00px;transform:scaleX(0.7854517252031482);transform-origin:0 0;"><u>N</u>egative</div>
<div class="t" style="top:876.00px;font-size:13.5px;left:342.90px;transform:scaleX(0.7757037037037037);transform-origin:0 0;">(71.6)</div>
<div class="t" style="top:876.00px;font-size:13.5px;right:358.90px;transform:scaleX(0.7757037037037037);transform-origin:100% 0;">141</div>
<div class="t" style="top:876.00px;font-size:13.5px;left:477.90px;transform:scaleX(0.7757037037037037);transform-origin:0 0;">(68.6)</div>
<div class="t" style="top:876.00px;font-size:13.5px;right:223.90px;transform:scaleX(0.7757037037037037);transform-origin:100% 0;">72</div>
<div class="t" style="top:876.00px;font-size:13.5px;left:639.10px;transform:scaleX(0.7757037037037037);transform-origin:0 0;">(75)</div>
<div class="t" style="top:876.00px;font-size:13.5px;right:62.70px;transform:scaleX(0.7757037037037037);transform-origin:100% 0;">69</div>
<div class="t" style="left:8.2px;top:914.3px;font-size:10px;color:#555;transform:scaleX(0.9);transform-origin:0 0;line-height:12px">*</div>
<div style="position:absolute;left:16px;top:920px;width:4.7px;height:2px;background:#555"></div>
<div class="t" style="top:910.00px;font-size:11px;left:24.60px;transform:scaleX(0.88);transform-origin:0 0;">p &lt; 0.05</div>
</body></html>
